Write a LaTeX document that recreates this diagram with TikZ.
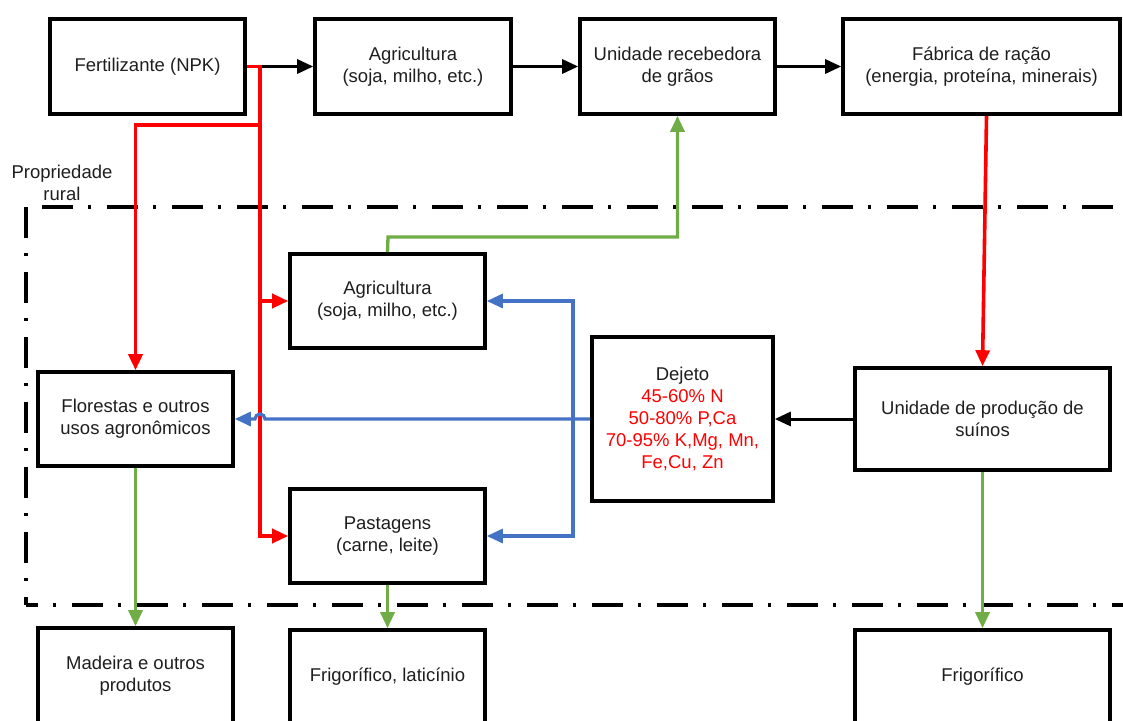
\documentclass[tikz,border=0pt]{standalone}
\usepackage{fontspec}
\setmainfont{Liberation Sans}
\usetikzlibrary{arrows.meta,calc}
\definecolor{rd}{RGB}{255,0,0}
\definecolor{gn}{RGB}{112,173,71}
\definecolor{bl}{RGB}{68,114,196}
\definecolor{txt}{RGB}{30,30,30}
\begin{document}
\begin{tikzpicture}[x=1pt,y=-1pt,
  box/.style={draw, line width=3.6pt, align=center, inner sep=0pt,
    font=\fontsize{18.5}{22}\selectfont, text=txt},
  tip/.style={-{Triangle[length=16pt,width=14pt]}},
  blkarr/.style={tip, line width=3pt, black},
  redarr/.style={tip, line width=3.6pt, rd},
  grnarr/.style={tip, line width=3.3pt, gn},
  bluarr/.style={tip, line width=3.2pt, bl},
  border/.style={line width=3.6pt, dash pattern=on 31pt off 15pt on 3pt off 16pt},
  lbl/.style={align=center, inner sep=0pt, font=\fontsize{18.5}{22}\selectfont, text=txt}
]
\useasboundingbox (0,0) rectangle (1123,720);

% property boundary
\draw[border] (26,207) -- (26,605);
\draw[border, dash phase=49pt] (26,207) -- (1123,207);
\draw[border, dash phase=19pt] (26,605) -- (1123,605);
\node[lbl] (prop) at (62,183) {Propriedade\\rural};

% boxes
\node[box, minimum width=195, minimum height=95] (fert) at (147.5,66.5) {Fertilizante (NPK)};
\node[box, minimum width=196, minimum height=95] (agri1) at (413,66.5) {Agricultura\\(soja, milho, etc.)};
\node[box, minimum width=195, minimum height=95] (rec) at (677.5,66.5) {Unidade recebedora\\de grãos};
\node[box, minimum width=277, minimum height=95] (fab) at (981.5,66.5) {Fábrica de ração\\(energia, proteína, minerais)};
\node[box, minimum width=195, minimum height=94] (agri2) at (387.5,301) {Agricultura\\(soja, milho, etc.)};
\node[box, minimum width=195, minimum height=94] (flor) at (135.5,419) {Florestas e outros\\usos agronômicos};
\node[box, minimum width=181, minimum height=164] (dej) at (682.5,419) {Dejeto\\
  \textcolor{rd}{45-60\% N}\\
  \textcolor{rd}{50-80\% P,Ca}\\
  \textcolor{rd}{70-95\% K,Mg, Mn,}\\
  \textcolor{rd}{Fe,Cu, Zn}};
\node[box, minimum width=255, minimum height=102] (prod) at (982.5,419) {Unidade de produção de\\suínos};
\node[box, minimum width=195, minimum height=94] (past) at (387.5,536) {Pastagens\\(carne, leite)};
\node[box, minimum width=195, minimum height=96] (mad) at (135.5,676) {Madeira e outros\\produtos};
\node[box, minimum width=195, minimum height=94] (frig1) at (387.5,677) {Frigorífico, laticínio};
\node[box, minimum width=255, minimum height=94] (frig2) at (982.5,677) {Frigorífico};

% junction points
\coordinate (rj) at (260,66.5);
\coordinate (rb) at (260,125);
\coordinate (bj) at (573,419);
\coordinate (gj) at (388,237);

% black flow along the top row
\draw[blkarr] (rj) -- (agri1.west);
\draw[blkarr] (agri1.east) -- (rec.west);
\draw[blkarr] (rec.east) -- (fab.west);
\draw[blkarr] (prod.west) -- (dej.east);

% fertiliser distribution
\draw[redarr] (fert.east) -- (rj) |- (agri2.west);
\draw[redarr] (rj) |- (past.west);
\draw[redarr] (rb) -| (flor.north);
\draw[redarr] ([xshift=5pt]fab.south) -- (prod.north);

% manure distribution
\draw[bluarr] (dej.west) -- (bj) -- (265,419)
  arc[start angle=0, end angle=180, radius=5pt] -- (flor.east);
\draw[bluarr] (bj) |- (agri2.east);
\draw[bluarr] (bj) |- (past.east);

% products
\draw[grnarr] (agri2.north) -- (gj) -| (rec.south);
\draw[grnarr] (flor.south) -- (mad.north);
\draw[grnarr] (past.south) -- (frig1.north);
\draw[grnarr] (prod.south) -- (frig2.north);
\end{tikzpicture}
\end{document}
